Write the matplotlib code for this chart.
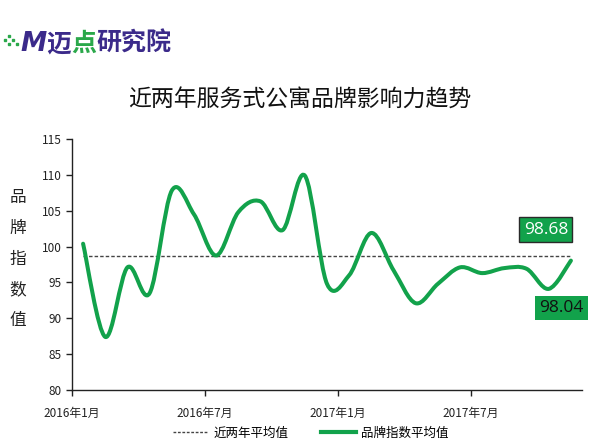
import matplotlib
matplotlib.use("Agg")
import matplotlib.pyplot as plt
from matplotlib.path import Path
from matplotlib.patches import PathPatch
from matplotlib.lines import Line2D
import numpy as np

plt.rcParams['font.family'] = ['Noto Sans CJK SC', 'DejaVu Sans']

# ---- data ----
months = ["2016-01", "2016-02", "2016-03", "2016-04", "2016-05", "2016-06",
          "2016-07", "2016-08", "2016-09", "2016-10", "2016-11", "2016-12",
          "2017-01", "2017-02", "2017-03", "2017-04", "2017-05", "2017-06",
          "2017-07", "2017-08", "2017-09", "2017-10", "2017-11"]
brand_index = [100.4, 87.4, 97.1, 93.5, 107.8, 104.5, 98.75, 104.8, 106.3, 102.3,
               109.9, 94.8, 96.0, 101.9, 96.7, 92.1, 94.8, 97.1, 96.3, 97.0,
               96.9, 94.1, 98.04]
avg_value = 98.68
last_value = 98.04
tick_labels = ["2016年1月", "2016年7月", "2017年1月", "2017年7月"]
tick_pos = [0, 6, 12, 18]
y_ticks = [80, 85, 90, 95, 100, 105, 110, 115]

GREEN = "#12a24b"
PURPLE = "#3b2a8a"

fig = plt.figure(figsize=(6.0, 4.46), dpi=100)
ax = fig.add_axes([0.12, 0.1256, 0.85, 0.5627])

x = np.arange(len(brand_index)) + 0.5
y = np.array(brand_index)

# smooth curve (Catmull-Rom via cubic Bezier path)
verts = [(x[0], y[0])]
codes = [Path.MOVETO]
n = len(x)
for i in range(n - 1):
    p0 = np.array([x[max(i - 1, 0)], y[max(i - 1, 0)]])
    p1 = np.array([x[i], y[i]])
    p2 = np.array([x[i + 1], y[i + 1]])
    p3 = np.array([x[min(i + 2, n - 1)], y[min(i + 2, n - 1)]])
    c1 = p1 + (p2 - p0) / 6.0
    c2 = p2 - (p3 - p1) / 6.0
    verts += [tuple(c1), tuple(c2), tuple(p2)]
    codes += [Path.CURVE4] * 3
ax.add_patch(PathPatch(Path(verts, codes), facecolor='none', edgecolor=GREEN,
                       lw=2.9, capstyle='round', joinstyle='round', zorder=3))

# average line
ax.plot([x[0], x[-1]], [avg_value, avg_value], color="#444444", lw=1.0,
        linestyle=(0, (2.5, 1.5)), zorder=2)

ax.set_xlim(0, 23)
ax.set_ylim(80, 115)
ax.set_yticks(y_ticks)
ax.set_xticks(tick_pos)
ax.set_xticklabels(tick_labels)
ax.tick_params(axis='both', labelsize=8.5, colors='#222222', length=4, width=1)
ax.tick_params(axis='x', pad=8)
for s in ['top', 'right']:
    ax.spines[s].set_visible(False)
for s in ['left', 'bottom']:
    ax.spines[s].set_color('#222222')
    ax.spines[s].set_linewidth(1.0)

# value labels
ax.annotate(f"{avg_value:.2f}", xy=(x[-1], avg_value), xytext=(-18, 19),
            textcoords='offset points', ha='center', va='center', fontsize=12.5,
            color='white', family=['Open Sans', 'DejaVu Sans'],
            bbox=dict(boxstyle='square,pad=0.25', fc=GREEN, ec='#2a2a2a', lw=1))
ax.annotate(f"{last_value:.2f}", xy=(x[-1], last_value), xytext=(-7, -34),
            textcoords='offset points', ha='center', va='center', fontsize=12.5,
            color='#111111', family=['Open Sans', 'DejaVu Sans'],
            bbox=dict(boxstyle='square,pad=0.25', fc=GREEN, ec='none'))

# title
fig.text(0.5, 1 - 100 / 446, "近两年服务式公寓品牌影响力趋势", ha='center', va='center',
         fontsize=16.5, color='#111111')

# y label stacked
for i, ch in enumerate("品牌指数值"):
    fig.text(18 / 600, 1 - (197 + 31 * i) / 446, ch, ha='center', va='center',
             fontsize=12, color='#222222')

# logo
dots_x = [5, 9, 13, 9, 17]
dots_y = [40, 44, 40, 36, 44]
fig.add_artist(Line2D([d / 600 for d in dots_x], [1 - d / 446 for d in dots_y],
                      transform=fig.transFigure, linestyle='none', marker='s',
                      markersize=2, color='#2aa84a'))
fig.text(20 / 600, 1 - 44 / 446, "M", color=PURPLE, fontsize=19,
         fontweight='heavy', ha='left', va='center', style='italic',
         family=['DejaVu Sans'])
fig.text(46 / 600, 1 - 44 / 446, "迈", color=PURPLE, fontsize=18,
         fontweight='heavy', ha='left', va='center')
fig.text(71 / 600, 1 - 44 / 446, "点", color='#2aa84a', fontsize=18,
         fontweight='heavy', ha='left', va='center')
fig.text(96 / 600, 1 - 44 / 446, "研究院", color=PURPLE, fontsize=18,
         fontweight='heavy', ha='left', va='center')

# legend
leg_handles = [Line2D([], [], color="#444444", lw=1.0, linestyle=(0, (2, 1.2))),
               Line2D([], [], color=GREEN, lw=3.0)]
fig.legend(leg_handles, ["近两年平均值", "品牌指数平均值"], loc='center',
           bbox_to_anchor=(0.518, 1 - 433 / 446), ncol=2, frameon=False,
           fontsize=9, handlelength=2.8, handletextpad=0.4, columnspacing=2.6)

fig.savefig("out.png", dpi=100)
